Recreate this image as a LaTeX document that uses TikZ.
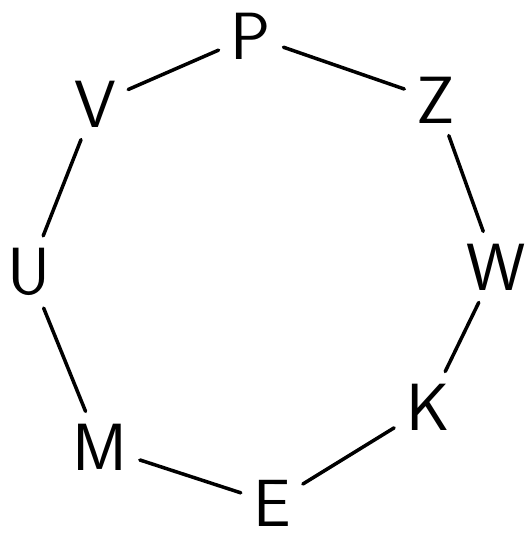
\documentclass[tikz,border=0pt]{standalone}
\usepackage{tikz}
\usetikzlibrary{calc}

\tikzset{
  letter/.style={font=\sffamily\fontsize{38}{40}\selectfont, inner sep=5pt},
  link/.style={line width=2pt, line cap=round, shorten <=2pt, shorten >=2pt}
}

\begin{document}
\begin{tikzpicture}[scale=1]
\useasboundingbox (0,0) rectangle (10.58,10.8);

\node[letter] (P) at (5.02,10.08) {P};
\node[letter] (Z) at (8.72,8.80) {Z};
\node[letter] (W) at (9.92,5.46) {W};
\node[letter] (K) at (8.56,2.66) {K};
\node[letter] (E) at (5.44,0.74) {E};
\node[letter] (M) at (2.00,1.86) {M};
\node[letter] (U) at (0.58,5.36) {U};
\node[letter] (V) at (1.90,8.72) {V};

\draw[link] (V) -- (P);
\draw[link] (P) -- (Z);
\draw[link] (Z) -- (W);
\draw[link] (W) -- (K);
\draw[link] (K) -- (E);
\draw[link] (E) -- (M);
\draw[link] (M) -- (U);
\draw[link] (U) -- (V);
\end{tikzpicture}
\end{document}
